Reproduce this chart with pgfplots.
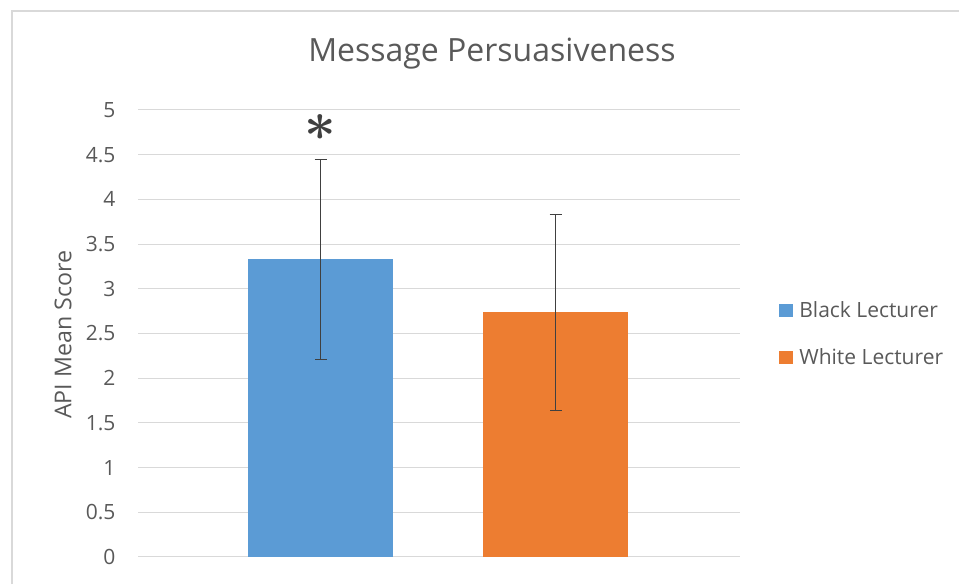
\documentclass[border=0pt]{standalone}
\usepackage{pgfplots}
\pgfplotsset{compat=1.18}
\usepackage{fontspec}
\setmainfont{Open Sans}
\definecolor{bblue}{HTML}{5B9BD5}
\definecolor{borange}{HTML}{ED7D31}
\definecolor{txt}{HTML}{595959}
\definecolor{gridc}{HTML}{D9D9D9}
\definecolor{errc}{HTML}{404040}
\newcommand{\boldast}{\mbox{\boldmath$\ast$}}
\begin{document}
\begin{tikzpicture}
\path[use as bounding box] (0,0) rectangle (959pt,584pt);
\draw[gridc, line width=1.5pt] (12pt,0) -- (12pt,573pt) -- (959pt,573pt);
\begin{axis}[
  at={(138pt,27pt)}, anchor=south west,
  scale only axis, width=602pt, height=447pt,
  xmin=-0.777, xmax=1.785, ymin=0, ymax=5,
  ytick={0,0.5,...,5},
  xtick=\empty,
  axis line style={draw=none},
  ymajorgrids, grid style={gridc, line width=1pt},
  major tick length=0pt,
  yticklabel style={font=\fontsize{21}{23}\selectfont, text=txt, xshift=-19pt},
  /pgf/number format/assume math mode=true,
  ylabel={API Mean Score},
  every axis y label/.style={at={(axis description cs:-0.1246,0.497)}, rotate=90, anchor=center, font=\fontsize{23.2}{25}\selectfont, text=txt},
  title={Message Persuasiveness},
  title style={at={(axis description cs:0.588,1.094)}, anchor=base, font=\fontsize{32}{36}\selectfont, text=txt},
  ybar, bar shift=0pt, bar width=0.617,
  legend style={at={(1.065,0.499)}, anchor=west, draw=none, fill=none, font=\fontsize{21}{23}\selectfont, text=txt, row sep=29pt, column sep=6pt, inner sep=0pt, nodes={inner sep=0pt}},
  legend cell align=left,
  legend image code/.code={\fill[#1,draw=none] (0pt,-6.5pt) rectangle (14pt,6.5pt);},
  error bars/error bar style={errc, line width=1pt},
  error bars/error mark options={rotate=90, mark size=6pt, errc, line width=1pt},
]
\addplot[fill=bblue, draw=none, error bars/.cd, y dir=both, y explicit]
  coordinates {(0,3.33) +- (0,1.12)};
\addlegendentry{Black Lecturer}
\addplot[fill=borange, draw=none, error bars/.cd, y dir=both, y explicit]
  coordinates {(1,2.735) +- (0,1.10)};
\addlegendentry{White Lecturer}
\node[text=errc, scale=5.5, inner sep=0pt] at (axis cs:0,4.80) {\boldast};
\end{axis}
\end{tikzpicture}
\end{document}
